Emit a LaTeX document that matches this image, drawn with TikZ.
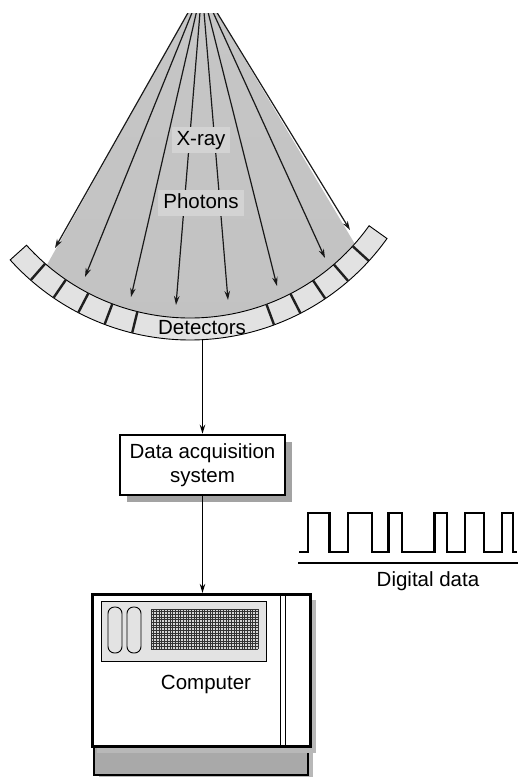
\documentclass[tikz,border=0pt]{standalone}
\usepackage{fontspec}
\setmainfont{Liberation Sans}
\usetikzlibrary{arrows.meta,calc,shadows}
\definecolor{fanlight}{HTML}{C6C6C6}
\definecolor{fandark}{HTML}{9B9B9B}
\definecolor{fanbottom}{HTML}{C2C2C2}
\definecolor{tagfill}{HTML}{D3D3D3}
\definecolor{cellfill}{HTML}{E2E2E2}
\definecolor{shadowgray}{HTML}{A3A3A3}
\definecolor{lightshadow}{HTML}{B8B8B8}
\definecolor{basefill}{HTML}{A9A9A9}
\definecolor{panelfill}{HTML}{E3E3E3}
\definecolor{gridfill}{HTML}{D6D6D6}

\begin{document}
\begin{tikzpicture}[x=1pt,y=-1pt,
  txt/.style={font=\fontsize{20.5}{24}\selectfont},
  ray/.style={line width=1.2pt, draw=black!90, -{Stealth[length=9pt,width=5.5pt]}},
  flow/.style={line width=1.1pt, -{Stealth[length=9pt,width=5.5pt]}},
  tag/.style={txt, fill=tagfill, inner xsep=5pt, inner ysep=3.5pt,
              text height=14.5pt, text depth=4.2pt},
  cellline/.style={draw=black, line width=0.9pt},
  divider/.style={draw=black!88, line width=2.4pt},
  box/.style={txt, draw, line width=2.6pt, fill=white, align=center,
              minimum width=165pt, minimum height=60pt,
              general shadow={fill=shadowgray, shadow xshift=7pt, shadow yshift=-7pt}},
  cabinet/.style={draw, line width=2.7pt, fill=white,
              general shadow={fill=lightshadow, shadow xshift=5pt, shadow yshift=-6pt}},
  wave/.style={line width=2.4pt, line join=miter}
]
\useasboundingbox (0,0) rectangle (518,777);

% centre of the detector arc and focal point of the beam
\coordinate (C) at (190,98);
\coordinate (A) at (202,-12);

% fan-shaped X-ray beam
\shade[top color=fanlight, middle color=fandark, bottom color=fanbottom]
  (188,13) -- ($(C)+(130.6:220)$) arc[start angle=130.6, end angle=41.5, radius=220]
  -- (217,13) -- cycle;

% photon rays
\coordinate (t1) at (55,248);
\coordinate (t2) at (85,277);
\coordinate (t3) at (131,297);
\coordinate (t4) at (176,305);
\coordinate (t5) at (228,300);
\coordinate (t6) at (277,286);
\coordinate (t7) at (325,258);
\coordinate (t8) at (350,230);
\begin{scope}
  \clip (0,13) rectangle (518,777);
  \foreach \t in {t1,t2,t3,t4,t5,t6,t7,t8}
    \draw[ray] (A) -- (\t);
\end{scope}

\node[tag] (xray) at (201,140) {X-ray};
\node[tag] (photons) at (201,203) {Photons};

% detector ring
\path[cellline, fill=cellfill]
  ($(C)+(35.5:242)$) arc[start angle=35.5, end angle=138, radius=242]
  -- ($(C)+(138:220)$) arc[start angle=138, end angle=35.5, radius=220] -- cycle;
\foreach \k [evaluate=\k as \a using 35.5+6.8333*\k] in {1,2,3,4,5,10,11,12,13,14}
  \draw[divider] ($(C)+(\a:220)$) -- ($(C)+(\a:242)$);
\node[txt, anchor=base] (detlabel) at (202,334) {Detectors};
\coordinate (dbot) at (202.5,340);

% data acquisition
\node[box] (das) at (202.5,465) {Data acquisition\\system};
\draw[flow] (dbot) -- (das.north);

% digital signal
\draw[wave] (299,552) -- (307.7,552) -- (307.7,513) -- (329.3,513) -- (329.3,552)
  -- (347.7,552) -- (347.7,513) -- (371.7,513) -- (371.7,552)
  -- (388.3,552) -- (388.3,513) -- (401.7,513) -- (401.7,552)
  -- (434.3,552) -- (434.3,513) -- (446.7,513) -- (446.7,552)
  -- (465,552) -- (465,513) -- (484,513) -- (484,552)
  -- (501.7,552) -- (501.7,513) -- (512.7,513) -- (512.7,552) -- (517,552);
\draw[line width=2.2pt] (298,563) -- (518,563);
\node[txt, anchor=base] (digital) at (428,586) {Digital data};

% computer cabinet
\node[cabinet, fill=basefill, line width=2pt, minimum width=214pt, minimum height=28pt]
  (base) at (201,761) {};
\node[cabinet, minimum width=218.5pt, minimum height=152.5pt] (comp) at (201.5,670.5) {};
\draw[flow] (das.south) -- (das.south |- comp.north);

% front panel with drive slots and vent grille
\draw[line width=0.9pt, fill=panelfill] (101,601) rectangle (266,661);
\draw[line width=0.9pt, fill=panelfill, rounded corners=6.5pt] (108,607) rectangle (122,653);
\draw[line width=0.9pt, fill=panelfill, rounded corners=6.5pt] (127,607) rectangle (141,653);
\fill[gridfill] (151,609) rectangle (258,649);
\foreach \i in {0,...,40}
  \draw[line width=0.45pt, black!80] (151+2.675*\i,609) -- (151+2.675*\i,649);
\foreach \j in {0,...,15}
  \draw[line width=0.45pt, black!80] (151,609+2.6667*\j) -- (258,609+2.6667*\j);
\draw[line width=0.9pt] (280,594) -- (280,747);
\draw[line width=0.9pt] (285,594) -- (285,747);
\node[txt] (complabel) at (206,684) {Computer};
\end{tikzpicture}
\end{document}
